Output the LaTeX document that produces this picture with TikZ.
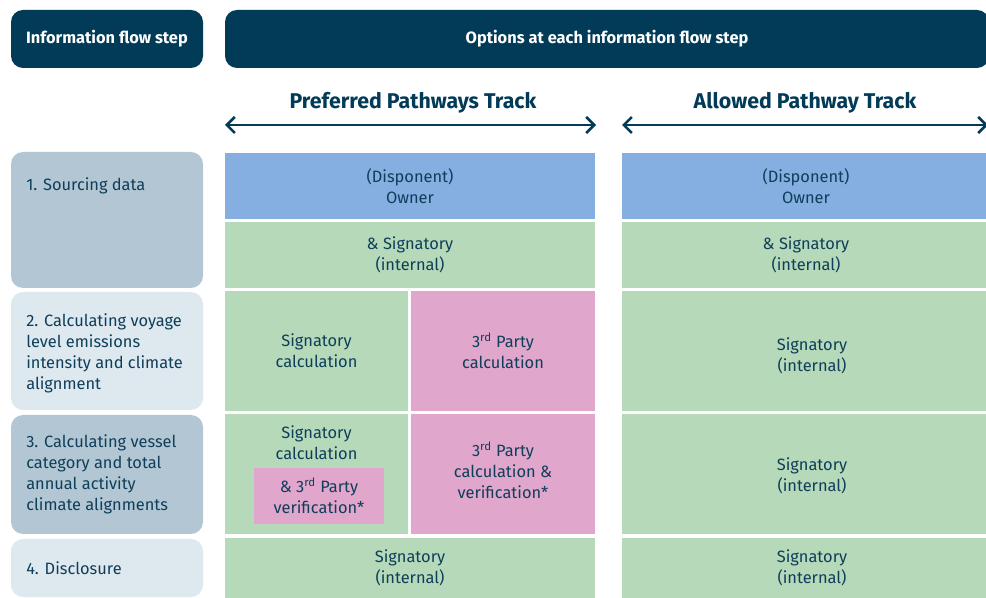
\documentclass[tikz,border=0pt]{standalone}
\usepackage{fontspec}
\setmainfont{Fira Sans}
\usetikzlibrary{arrows.meta}

\definecolor{navy}{HTML}{023B57}
\definecolor{ink}{HTML}{0F3E5A}
\definecolor{stepdark}{HTML}{B2C7D3}
\definecolor{steplight}{HTML}{DDE8EF}
\definecolor{owner}{HTML}{84AFE0}
\definecolor{signatory}{HTML}{B5D9B9}
\definecolor{party}{HTML}{E0A6CB}

\begin{document}
\begin{tikzpicture}[
        x=0.75pt, y=-0.75pt,
        font=\fontsize{12.3}{15.75}\selectfont,
        text=ink]

        \tikzstyle{wide}=[minimum width=#1*0.75pt]
        \tikzstyle{header}=[
            fill = navy,
            rounded corners = 9pt,
            text = white,
            minimum height = 43.5pt,
            font = \fontsize{12.3}{14}\selectfont\bfseries
        ]
        \tikzstyle{stepbox}=[
            rounded corners = 9pt,
            minimum width = 144pt
        ]
        \tikzstyle{cell}=[
            align = center,
            inner sep = 0pt
        ]
        \tikzset{tall/.style={minimum height=#1*0.75pt}}
        \tikzset{steptext/.style={align=left, anchor=west, inner sep=0pt}}
        \tikzset{track/.style={font=\fontsize{16}{18}\selectfont\bfseries, text=navy}}
        \tikzset{span/.style={<->, >={Straight Barb[length=6pt,width=12pt]}, draw=navy, line width=1.9pt}}

        \useasboundingbox (0,0) rectangle (986,598);
        \clip (0,0) rectangle (986,598);

        % headers
        \node[header, wide=192] (hstep) at (107,39) {Information flow step};
        \node[header, wide=764] (hopt) at (607,39) {Options at each information flow step};

        % tracks
        \node[track] (pref) at (413,103) {Preferred Pathways Track};
        \node[track] (allow) at (805,103) {Allowed Pathway Track};
        \coordinate (prefL) at (225,125);
        \coordinate (prefR) at (596,125);
        \coordinate (allowL) at (622,125);
        \coordinate (allowR) at (988,125);
        \draw[span] (prefL) -- (prefR);
        \draw[span] (allowL) -- (allowR);

        % information flow steps
        \node[stepbox, fill=stepdark, tall=136] (s1) at (107,220) {};
        \node[stepbox, fill=steplight, tall=118] (s2) at (107,351) {};
        \node[stepbox, fill=stepdark, tall=119] (s3) at (107,474.5) {};
        \node[stepbox, fill=steplight, tall=58] (s4) at (107,568) {};
        \node[steptext] (s1t) at (26,186) {1. Sourcing data};
        \node[steptext] (s2t) at (26,353) {2. Calculating voyage\\level emissions\\intensity and climate\\alignment};
        \node[steptext] (s3t) at (26,474) {3. Calculating vessel\\category and total\\annual activity\\climate alignments};
        \node[steptext] (s4t) at (26,568) {4. Disclosure};

        % preferred pathways track
        \node[cell, fill=owner, wide=370, tall=66] (own1) at (410,186) {(Disponent)\\Owner};
        \node[cell, fill=signatory, wide=370, tall=66] (sig1) at (410,255) {\& Signatory\\(internal)};
        \node[cell, fill=signatory, wide=183, tall=120] (calc2) at (316.5,351) {Signatory\\calculation};
        \node[cell, fill=party, wide=184, tall=120] (party2) at (503,351) {3\textsuperscript{rd} Party\\calculation};
        \node[cell, fill=signatory, wide=183, tall=120] (calc3) at (316.5,474) {};
        \node[cell, anchor=north] (calc3t) at ([yshift=-9pt]calc3.north) {Signatory\\calculation};
        \node[cell, fill=party, wide=130, tall=56] (verif3) at (319,496) {\& 3\textsuperscript{rd} Party\\verification*};
        \node[cell, fill=party, wide=184, tall=120] (party3) at (503,474) {};
        \node[cell] (party3t) at (503,470) {3\textsuperscript{rd} Party\\calculation \&\\verification*};
        \node[cell, fill=signatory, wide=370, tall=60] (sig4) at (410,568) {Signatory\\(internal)};

        % allowed pathway track
        \node[cell, fill=owner, wide=368, tall=66] (own1r) at (806,186) {(Disponent)\\Owner};
        \node[cell, fill=signatory, wide=368, tall=66] (sig1r) at (806,255) {\& Signatory\\(internal)};
        \node[cell, fill=signatory, wide=368, tall=120] (sig2r) at (806,351) {};
        \node[cell] (sig2rt) at (812,356) {Signatory\\(internal)};
        \node[cell, fill=signatory, wide=368, tall=120] (sig3r) at (806,474) {};
        \node[cell] (sig3rt) at (812,476) {Signatory\\(internal)};
        \node[cell, fill=signatory, wide=368, tall=60] (sig4r) at (806,568) {};
        \node[cell] (sig4rt) at (812,568) {Signatory\\(internal)};
    \end{tikzpicture}
\end{document}
